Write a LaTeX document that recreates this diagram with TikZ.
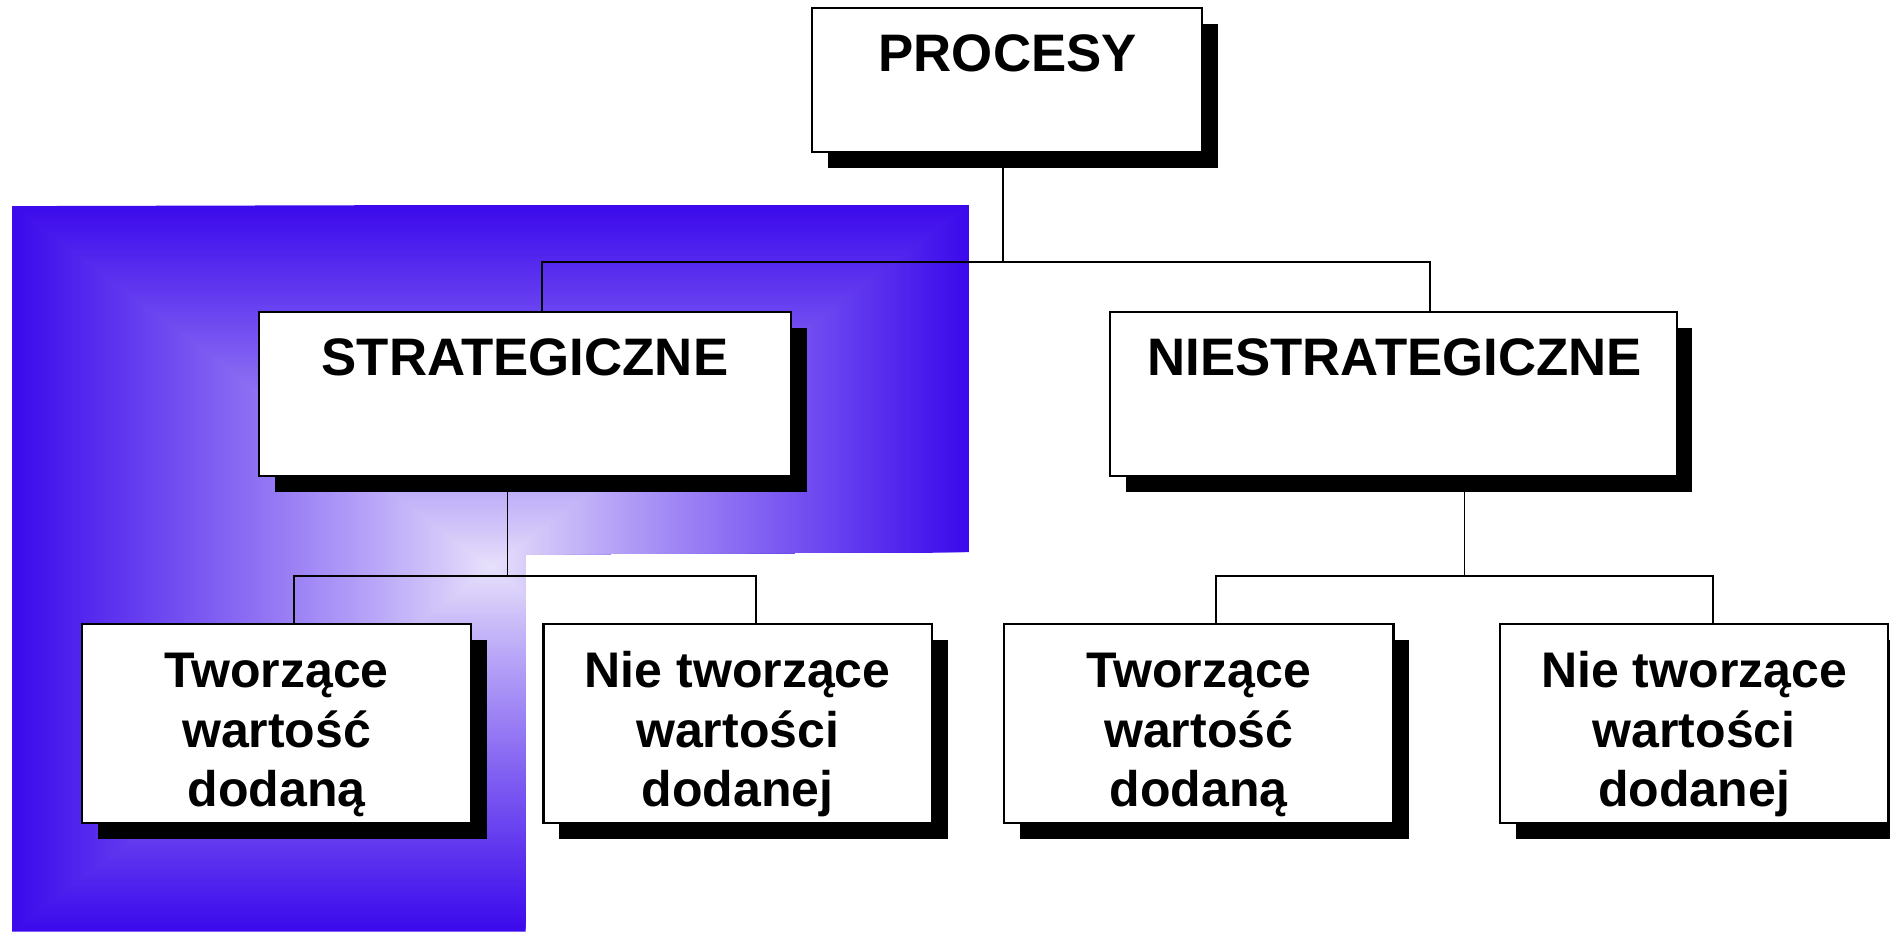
\documentclass[tikz,border=0pt]{standalone}
\usepackage{fontspec}
\setmainfont{Liberation Sans}
\newfontfamily\hdfont{Liberation Sans Bold}
\usetikzlibrary{shadows}
\definecolor{bgblue}{RGB}{60,10,236}
\definecolor{bglav}{RGB}{234,228,251}
\tikzset{
  box/.style={draw=black, line width=0.5pt, fill=white, inner sep=0pt,
    drop shadow={shadow xshift=0.13cm, shadow yshift=-0.13cm, fill=black, opacity=1}},
  conn/.style={draw=black, line width=0.45pt},
  headtxt/.style={font=\hdfont\fontsize{12.45}{14}\selectfont, anchor=base, inner sep=0pt},
  subtxt/.style={font=\hdfont\fontsize{11.8}{14.1}\selectfont, anchor=base, align=center, inner sep=0pt},
}
\begin{document}
\begin{tikzpicture}[x=0.01cm, y=-0.01cm]
\path[use as bounding box, clip] (0,0) rectangle (1568,773);
% gradient background
\begin{scope}
  \clip (10,171) -- (804,169) -- (804,458) -- (436,460) -- (436,773) -- (10,773) -- cycle;
  \foreach \i in {120,119,...,1}{
    \pgfmathsetmacro{\t}{\i/120}
    \pgfmathsetmacro{\g}{100*(\t)^0.9}
    \fill[bgblue!\g!bglav] (407-\t*397, 471.5-\t*301.5) rectangle (407+\t*397, 471.5+\t*301.5);
  }
\end{scope}
% boxes
\node[box, minimum width=3.23cm, minimum height=1.19cm] (procesy) at (835.5,66.5) {};
\node[headtxt] (procesyt) at (836,59.5) {PROCESY};
\node[box, minimum width=4.41cm, minimum height=1.36cm] (strat) at (435.5,327) {};
\node[headtxt] (stratt) at (435.5,311.8) {STRATEGICZNE};
\node[box, minimum width=4.70cm, minimum height=1.36cm] (nstrat) at (1156,327) {};
\node[headtxt] (nstratt) at (1157,311.8) {NIESTRATEGICZNE};
\node[box, minimum width=3.23cm, minimum height=1.65cm] (twl) at (229.5,600.5) {};
\node[subtxt] (twlt) at (229.5,669.5) {Tworzące\\wartość\\dodaną};
\node[box, minimum width=3.22cm, minimum height=1.65cm] (ntl) at (612,600.5) {};
\node[subtxt] (ntlt) at (612,669.5) {Nie tworzące\\wartości\\dodanej};
\node[box, minimum width=3.23cm, minimum height=1.65cm] (twr) at (994.5,600.5) {};
\node[subtxt] (twrt) at (994.5,669.5) {Tworzące\\wartość\\dodaną};
\node[box, minimum width=3.22cm, minimum height=1.65cm] (ntr) at (1405.5,600.5) {};
\node[subtxt] (ntrt) at (1405.5,669.5) {Nie tworzące\\wartości\\dodanej};
% connectors
\coordinate (j0) at (832,217);
\coordinate (jl) at (450,217);
\coordinate (jr) at (1186,217);
\draw[conn] (procesy.south -| j0) -- (j0);
\draw[conn] (strat.north -| jl) -- (jl) -- (jr) -- (nstrat.north -| jr);
\coordinate (k0) at (421,478);
\coordinate (kl) at (244,478);
\coordinate (kr) at (627,478);
\draw[conn] (strat.south -| k0) -- (k0);
\draw[conn] (twl.north -| kl) -- (kl) -- (kr) -- (ntl.north -| kr);
\coordinate (m0) at (1215,478);
\coordinate (ml) at (1009,478);
\coordinate (mr) at (1421,478);
\draw[conn] (nstrat.south -| m0) -- (m0);
\draw[conn] (twr.north -| ml) -- (ml) -- (mr) -- (ntr.north -| mr);
\end{tikzpicture}
\end{document}
